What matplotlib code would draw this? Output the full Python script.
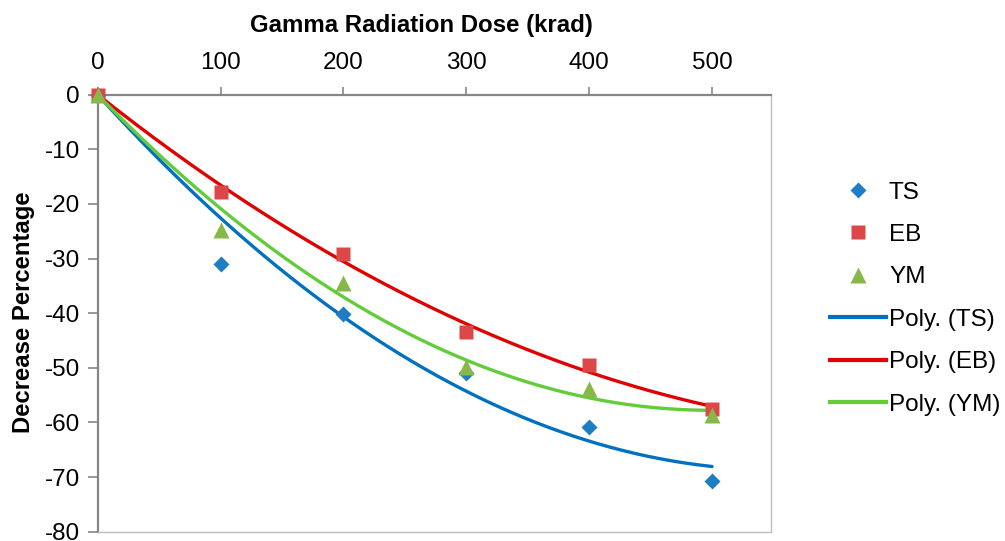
import numpy as np
import matplotlib
matplotlib.use("Agg")
import matplotlib.pyplot as plt
from matplotlib.lines import Line2D

plt.rcParams['font.family'] = ['Liberation Sans', 'DejaVu Sans']
plt.rcParams['axes.unicode_minus'] = False

dose = [0, 100, 200, 300, 400, 500]
ts = [0, -31.0, -40.2, -50.9, -60.8, -70.7]
eb = [0, -17.8, -29.2, -43.4, -49.4, -57.6]
ym = [0, -24.7, -34.4, -49.8, -53.8, -58.7]
xticks = [0, 100, 200, 300, 400, 500]
yticks = [0, -10, -20, -30, -40, -50, -60, -70, -80]

fig = plt.figure(figsize=(10.05, 5.41), dpi=100)
ax = fig.add_axes([0.0972, 0.0172, 0.6700, 0.8078])

c_ts_m, c_ts_l = '#1F7DC4', '#0070C0'
c_eb_m, c_eb_l = '#DC4848', '#E00000'
c_ym_m, c_ym_l = '#86B84A', '#63CC3A'


def poly2_zero_intercept(x, y):
    x = np.asarray(x, float)
    y = np.asarray(y, float)
    A = np.column_stack([x ** 2, x])
    coef, *_ = np.linalg.lstsq(A, y, rcond=None)
    return coef


xs = np.linspace(0, 500, 200)
for y, col in [(ts, c_ts_l), (eb, c_eb_l), (ym, c_ym_l)]:
    a, b = poly2_zero_intercept(dose, y)
    ax.plot(xs, a * xs ** 2 + b * xs, color=col, lw=2.4, zorder=2,
            solid_capstyle='round')

ax.plot(dose, ts, 'D', color=c_ts_m, ms=8.2, mec='none', zorder=3)
ax.plot(dose, eb, 's', color=c_eb_m, ms=10.5, mec='none', zorder=3)
ax.plot(dose, ym, '^', color=c_ym_m, ms=11.5, mec='none', zorder=4)

ax.set_xlim(0, 548)
ax.set_ylim(-80, 0)
ax.xaxis.tick_top()
ax.set_xticks(xticks)
ax.set_yticks(yticks)
ax.tick_params(axis='x', direction='out', length=6, width=1.2, color='#868686',
               labelsize=17.5, pad=9)
ax.tick_params(axis='y', direction='out', length=7, width=1.2, color='#868686',
               labelsize=17.5, pad=6)
for s in ['top', 'left']:
    ax.spines[s].set_color('#868686')
    ax.spines[s].set_linewidth(1.6)
for s in ['right', 'bottom']:
    ax.spines[s].set_color('#BFBFBF')
    ax.spines[s].set_linewidth(1.0)
for l in ax.lines:
    l.set_clip_on(False)

fig.text(0.419, 0.952, 'Gamma Radiation Dose (krad)', ha='center', va='center',
         fontsize=17.3, fontweight='bold')
fig.text(0.023, 0.423, 'Decrease Percentage', ha='center', va='center',
         rotation=90, fontsize=17.2, fontweight='bold')

handles = [
    Line2D([], [], ls='none', marker='D', color=c_ts_m, ms=8.2, mec='none'),
    Line2D([], [], ls='none', marker='s', color=c_eb_m, ms=10.5, mec='none'),
    Line2D([], [], ls='none', marker='^', color=c_ym_m, ms=11.5, mec='none'),
    Line2D([], [], color=c_ts_l, lw=3),
    Line2D([], [], color=c_eb_l, lw=3),
    Line2D([], [], color=c_ym_l, lw=3),
]
labels = ['TS', 'EB', 'YM', 'Poly. (TS)', 'Poly. (EB)', 'Poly. (YM)']
fig.legend(handles, labels, loc='center left', bbox_to_anchor=(0.826, 0.448),
           frameon=False, fontsize=17.5, handlelength=2.3, handletextpad=0.12,
           labelspacing=0.84, borderaxespad=0, borderpad=0)

fig.savefig('out.png', dpi=100)
